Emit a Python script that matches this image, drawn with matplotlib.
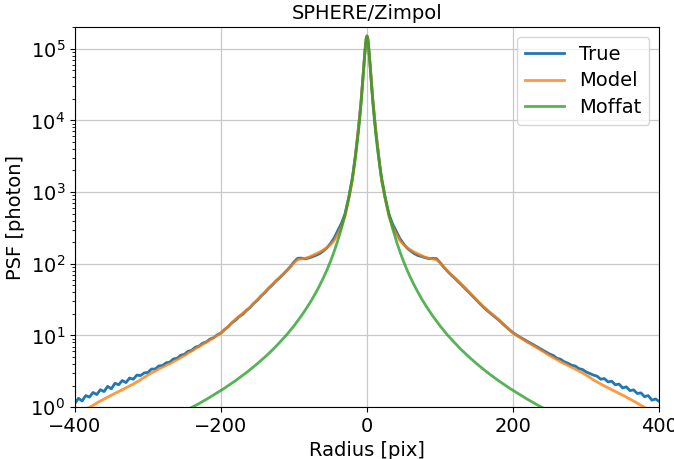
import numpy as np
import matplotlib
matplotlib.use("Agg")
import matplotlib.pyplot as plt

# radius grid of the radial profiles [pix]
radius = np.array([0, 1, 2, 3, 4, 5, 6, 8, 10, 12, 14, 16, 18, 20]
                  + list(range(25, 401, 5)))

# True profile, right side (r >= 0)
true_right = [150000, 138000, 112000, 86000, 64000, 47000, 34000, 19000, 11500, 7200, 4800, 3150, 2150, 1500,
              820, 490, 360, 285, 225, 190, 165, 150, 138, 130,
              126, 121, 118, 119, 118, 104, 90, 79, 70, 63,
              56, 50, 44.5, 39.5, 35, 31, 27.5, 24.5, 22, 20,
              18.2, 16.5, 14.8, 13.3, 12, 10.9, 10.1, 9.4, 8.8, 8.2,
              7.7, 7.2, 6.75, 6.3, 5.9, 5.5, 5.25, 4.8, 4.65, 4.3,
              4.1, 3.85, 3.75, 3.45, 3.35, 3.1, 2.95, 2.8, 2.7, 2.45,
              2.5, 2.25, 2.3, 2.05, 2.1, 1.85, 1.92, 1.7, 1.74, 1.55,
              1.58, 1.4, 1.45, 1.25, 1.3, 1.2]

# True profile, left side (listed from r = 0 outwards)
true_left = [150000, 138000, 112000, 86000, 64000, 47000, 34000, 19000, 11500, 7200, 4800, 3200, 2200, 1550,
             830, 500, 365, 290, 228, 192, 166, 150, 138, 131,
             125, 120, 117, 120, 119, 106, 91, 80, 71, 63,
             57, 50, 45, 39.5, 35.5, 31, 28, 24.5, 22.3, 19.8,
             18.3, 16.3, 15, 13.2, 12.1, 10.8, 10.2, 9.3, 8.9, 8.1,
             7.8, 7.1, 6.85, 6.2, 6.0, 5.45, 5.3, 4.8, 4.7, 4.25,
             4.15, 3.8, 3.75, 3.4, 3.4, 3.05, 3.0, 2.75, 2.8, 2.45,
             2.55, 2.2, 2.35, 2.05, 2.15, 1.8, 1.95, 1.65, 1.75, 1.5,
             1.6, 1.38, 1.45, 1.22, 1.33, 1.12]

# Model profile (symmetric)
model = [150000, 138000, 112000, 86000, 64000, 47000, 34000, 19000, 11500, 7200, 4800, 3100, 2100, 1450,
         800, 460, 330, 260, 210, 185, 168, 155, 145, 137,
         130, 123, 119, 117, 114, 103, 90, 80, 71, 64,
         57, 51, 45.5, 40, 35.5, 31.5, 28, 25, 22.5, 20.3,
         18.5, 16.8, 15, 13.4, 12, 10.8, 10, 9.3, 8.6, 8.0,
         7.5, 7.0, 6.5, 6.05, 5.65, 5.25, 4.9, 4.6, 4.3, 4.05,
         3.8, 3.6, 3.4, 3.2, 3.0, 2.8, 2.6, 2.4, 2.25, 2.1,
         1.98, 1.86, 1.75, 1.65, 1.56, 1.47, 1.38, 1.3, 1.22, 1.14,
         1.06, 0.99, 0.93, 0.88, 0.84, 0.8]

# Moffat profile (symmetric)
moffat = [150000, 140000, 114000, 86000, 63000, 45000, 32400, 17700, 10400, 6500, 4300, 2980, 2140, 1590,
          833, 490, 311, 210, 148, 108, 81, 62.7, 49.4, 39.6,
          32.2, 26.6, 22.2, 18.7, 15.9, 13.6, 11.8, 10.2, 8.97, 7.9,
          7.0, 6.2, 5.55, 4.97, 4.48, 4.05, 3.67, 3.33, 3.04, 2.78,
          2.55, 2.34, 2.16, 1.99, 1.84, 1.71, 1.59, 1.48, 1.375, 1.28,
          1.2, 1.12, 1.05, 0.99, 0.93, 0.875, 0.83, 0.78, 0.74, 0.70,
          0.66, 0.62, 0.59, 0.56, 0.53, 0.51, 0.48, 0.46, 0.44, 0.42,
          0.40, 0.38, 0.36, 0.35, 0.33, 0.32, 0.31, 0.29, 0.28, 0.27,
          0.26, 0.25, 0.24, 0.23, 0.22, 0.21]

# full cut through the centre: left side mirrored, then right side
x = np.concatenate([-radius[::-1], radius[1:]])


def cut(left, right):
    left = np.array(left)
    right = np.array(right)
    return np.concatenate([left[::-1], right[1:]])


fig = plt.figure(figsize=(6.74, 4.59), dpi=100)
fig.subplots_adjust(left=0.111, right=0.978, bottom=0.113, top=0.941)
ax = fig.add_subplot(111)

ax.semilogy(x, cut(true_left, true_right), color="C0", lw=2, label="True")
ax.semilogy(x, cut(model, model), color="C1", lw=2, alpha=0.8, label="Model")
ax.semilogy(x, cut(moffat, moffat), color="C2", lw=2, alpha=0.8, label="Moffat")

ax.set_xlim(-400, 400)
ax.set_ylim(1, 2e5)
ax.set_xticks([-400, -200, 0, 200, 400])
ax.grid(True, which="major", color="#c8c8c8", lw=0.9)
ax.tick_params(labelsize=14)

ax.set_xlabel("Radius [pix]", fontsize=14)
ax.set_ylabel("PSF [photon]", fontsize=14)
ax.set_title("SPHERE/Zimpol", fontsize=14)
ax.legend(loc="upper right", fontsize=14, labelspacing=0.4)

fig.savefig("out.png", dpi=100)
